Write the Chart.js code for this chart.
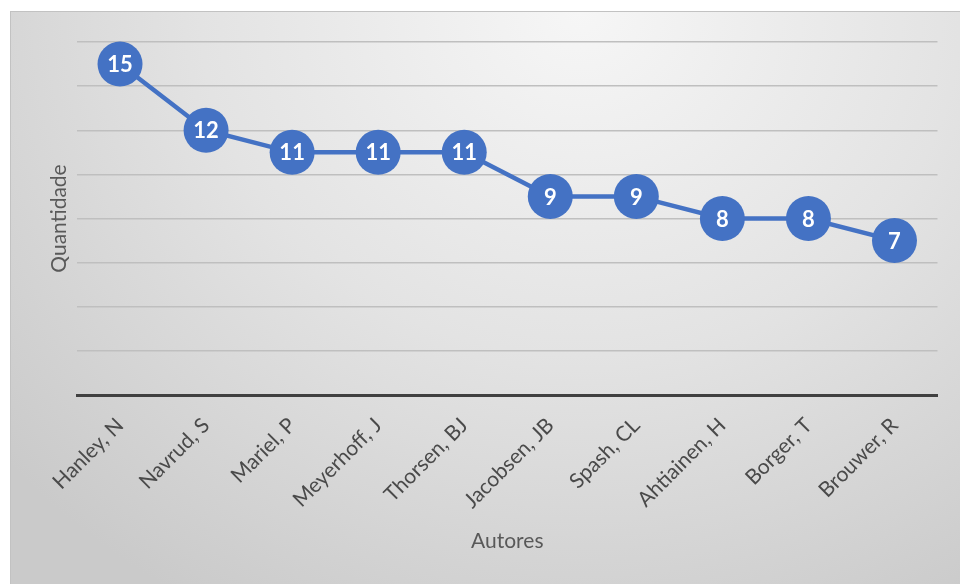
<!DOCTYPE html>
<html>
<head>
<meta charset="utf-8">
<script src="https://cdn.jsdelivr.net/npm/chart.js@4/dist/chart.umd.min.js"></script>
<style>
  html, body { margin: 0; padding: 0; background: #ffffff; width: 960px; height: 584px; overflow: hidden; }
  #frame {
    position: absolute; left: 10px; top: 11px; width: 950px; height: 573px;
    box-sizing: border-box;
    border-top: 1px solid #c2c2c2; border-left: 1px solid #c2c2c2;
    background: radial-gradient(ellipse 80% 120% at 60% 0%, #f6f6f6 0%, #e3e3e3 50%, #cacaca 100%);
  }
  #c { position: absolute; left: 0; top: 0; }
</style>
</head>
<body>
<div id="frame"><canvas id="c" width="949" height="572"></canvas></div>
<script>
const categories = ["Hanley, N", "Navrud, S", "Mariel, P", "Meyerhoff, J", "Thorsen, BJ", "Jacobsen, JB", "Spash, CL", "Ahtiainen, H", "Borger, T", "Brouwer, R"];
const quantidade = [15, 12, 11, 11, 11, 9, 9, 8, 8, 7];
const yTitle = "Quantidade";
const xTitle = "Autores";

const FONT = "Lato, 'Open Sans', sans-serif";
const TEXT = "#4a4a4a";
const BLUE = "#4472C4";

const pointLabels = {
  id: 'pointLabels',
  afterDatasetsDraw(chart) {
    const ctx = chart.ctx;
    chart.data.datasets.forEach((ds, i) => {
      const meta = chart.getDatasetMeta(i);
      ctx.save();
      ctx.fillStyle = '#ffffff';
      ctx.font = 'bold 22px ' + FONT;
      ctx.textAlign = 'center';
      ctx.textBaseline = 'middle';
      meta.data.forEach((el, j) => {
        ctx.fillText(String(ds.data[j]), el.x, el.y + 1);
      });
      ctx.restore();
    });
  }
};

new Chart(document.getElementById('c'), {
  type: 'line',
  data: {
    labels: categories,
    datasets: [{
      data: quantidade,
      borderColor: BLUE,
      backgroundColor: BLUE,
      borderWidth: 4.5,
      pointRadius: 22.5,
      pointHoverRadius: 22.5,
      pointBackgroundColor: BLUE,
      pointBorderColor: BLUE,
      pointBorderWidth: 0,
      tension: 0,
      clip: false
    }]
  },
  options: {
    responsive: false,
    animation: false,
    events: [],
    layout: { padding: { top: 30, right: 18, left: 0, bottom: 0 } },
    plugins: { legend: { display: false }, tooltip: { enabled: false } },
    scales: {
      x: {
        offset: true,
        grid: { display: false },
        border: { display: true, color: '#404040', width: 3 },
        ticks: {
          autoSkip: false, maxRotation: 45, minRotation: 45,
          color: TEXT, font: { family: FONT, size: 21 }, padding: 10
        },
        title: {
          display: true, text: xTitle, color: '#595959',
          font: { family: FONT, size: 21 }, padding: { top: 0, bottom: 30 }
        },
        afterFit(scale) { scale.height = 189; }
      },
      y: {
        min: 0, max: 16,
        ticks: { display: false, stepSize: 2 },
        border: { display: false },
        grid: {
          drawTicks: false,
          color: (c) => c.tick && c.tick.value === 0 ? '#404040' : '#bfbfbf',
          lineWidth: (c) => c.tick && c.tick.value === 0 ? 3 : 1.5
        },
        title: {
          display: true, text: yTitle, color: '#595959',
          font: { family: FONT, size: 21 }, padding: { top: 36, bottom: 0 }
        },
        afterFit(scale) { scale.width = 66; }
      }
    }
  },
  plugins: [pointLabels]
});
</script>
</body>
</html>
